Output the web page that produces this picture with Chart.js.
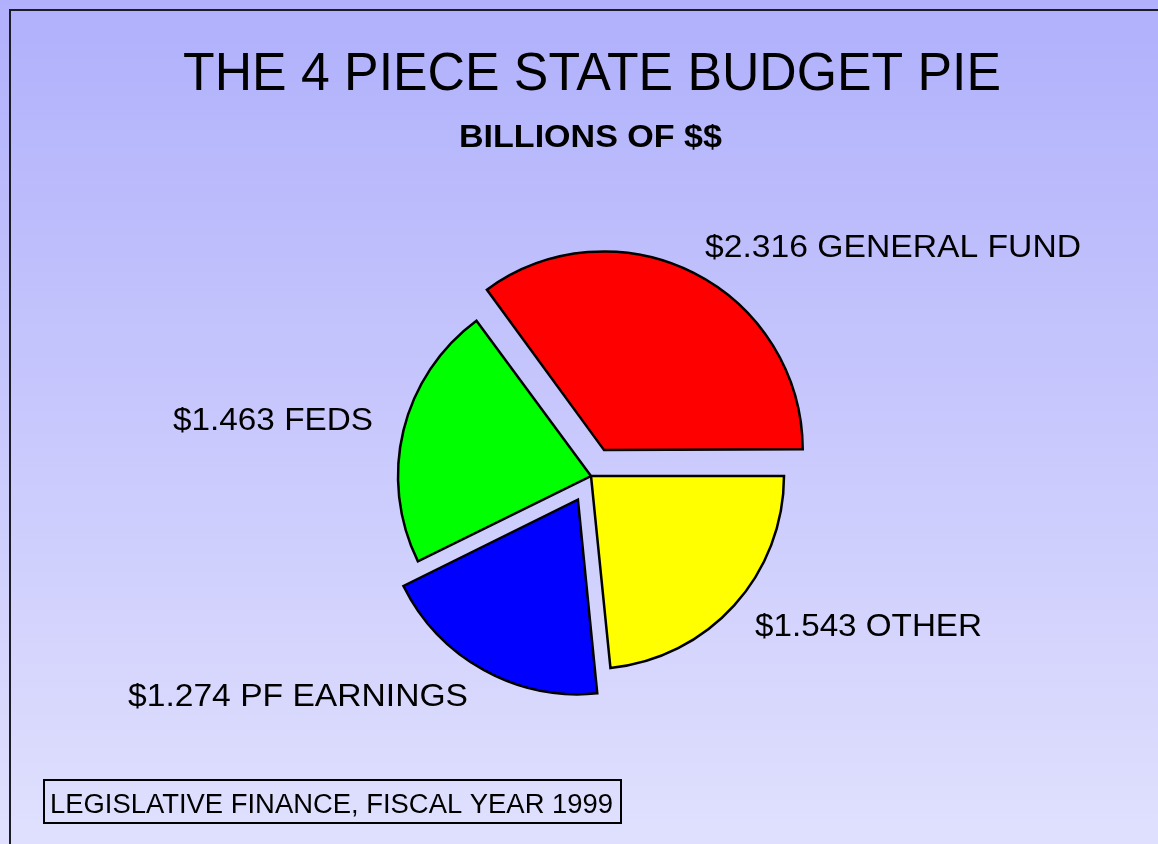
<!DOCTYPE html>
<html lang="en">
<head>
    <meta charset="UTF-8">
    <title>The 4 Piece State Budget Pie</title>
    <script src="https://cdn.jsdelivr.net/npm/chart.js"></script>
    <style>
        body { margin: 0; background: #c8c8fc; }
        canvas { display: block; }
    </style>
</head>
<body>
    <canvas id="budgetPie" width="1158" height="844"></canvas>

    <script>
        // billions of dollars, fiscal year 1999
        const categories = ["GENERAL FUND", "OTHER", "PF EARNINGS", "FEDS"];
        const amounts = [2.316, 1.543, 1.274, 1.463];
        const sliceColors = ["#ff0000", "#ffff00", "#0000ff", "#00ff00"];
        const pulledOut = [116, 0, 108, 0];

        const titleText = "THE 4 PIECE STATE BUDGET PIE";
        const subtitleText = "BILLIONS OF $$";
        const footerText = "LEGISLATIVE FINANCE, FISCAL YEAR 1999";

        // where each slice label sits, relative to the pie centre (dx, baseline dy, align, width)
        const labelSpots = [
            { dx: 114, dy: -219, align: "left", w: 376 },
            { dx: 164, dy: 160, align: "left", w: 227 },
            { dx: -123, dy: 230, align: "right", w: 340 },
            { dx: -218, dy: -46, align: "right", w: 200 }
        ];

        // draw text squeezed/stretched to a given width
        function fitText(ctx, text, x, y, font, width, align) {
            ctx.save();
            ctx.font = font;
            ctx.textBaseline = "alphabetic";
            ctx.textAlign = "left";
            let w = ctx.measureText(text).width;
            let sx = width / w;
            let left = x;
            if (align === "center") left = x - width / 2;
            if (align === "right") left = x - width;
            ctx.translate(left, y);
            ctx.scale(sx, 1);
            ctx.fillStyle = "#000";
            ctx.fillText(text, 0, 0);
            ctx.restore();
        }

        const backdrop = {
            id: "backdrop",
            beforeDraw(chart) {
                let ctx = chart.ctx;
                let g = ctx.createLinearGradient(0, 0, 0, chart.height);
                g.addColorStop(0, "#b0b0fc");
                g.addColorStop(1, "#e0e0fe");
                ctx.save();
                ctx.fillStyle = g;
                ctx.fillRect(0, 0, chart.width, chart.height);
                // slide frame, runs off the right and bottom
                ctx.strokeStyle = "#1c1c28";
                ctx.lineWidth = 2;
                ctx.beginPath();
                ctx.moveTo(chart.width + 5, 10);
                ctx.lineTo(10, 10);
                ctx.lineTo(10, chart.height + 5);
                ctx.stroke();
                ctx.restore();
            }
        };

        const captions = {
            id: "captions",
            afterDraw(chart) {
                let ctx = chart.ctx;
                let arcs = chart.getDatasetMeta(0).data;
                let cx = arcs[0].x, cy = arcs[0].y;

                fitText(ctx, titleText, 592, 90, "53px 'Liberation Sans', Arial, sans-serif", 818, "center");
                fitText(ctx, subtitleText, 590.5, 147, "bold 31px 'Liberation Sans', Arial, sans-serif", 263, "center");

                categories.forEach((name, i) => {
                    let s = labelSpots[i];
                    let txt = "$" + amounts[i].toFixed(3) + " " + name;
                    fitText(ctx, txt, cx + s.dx, cy + s.dy, "31px 'Liberation Sans', Arial, sans-serif", s.w, s.align);
                });

                ctx.save();
                ctx.strokeStyle = "#000";
                ctx.lineWidth = 2;
                ctx.strokeRect(44, 780, 577, 43);
                ctx.restore();
                fitText(ctx, footerText, 50, 813, "27px 'Liberation Sans', Arial, sans-serif", 563, "left");
            }
        };

        let total = amounts.reduce((a, b) => a + b, 0);

        new Chart(document.getElementById("budgetPie"), {
            type: "pie",
            data: {
                labels: categories,
                datasets: [{
                    data: amounts,
                    backgroundColor: sliceColors,
                    borderColor: "#000",
                    borderWidth: 2.5,
                    borderJoinStyle: "miter",
                    offset: pulledOut
                }]
            },
            options: {
                responsive: false,
                animation: false,
                radius: 193,
                rotation: 90 - (amounts[0] / total) * 360,
                layout: { padding: { left: 124, right: 100, top: 208, bottom: 100 } },
                plugins: {
                    legend: { display: false },
                    tooltip: { enabled: false },
                    title: { display: false }
                }
            },
            plugins: [backdrop, captions]
        });
    </script>
</body>
</html>
